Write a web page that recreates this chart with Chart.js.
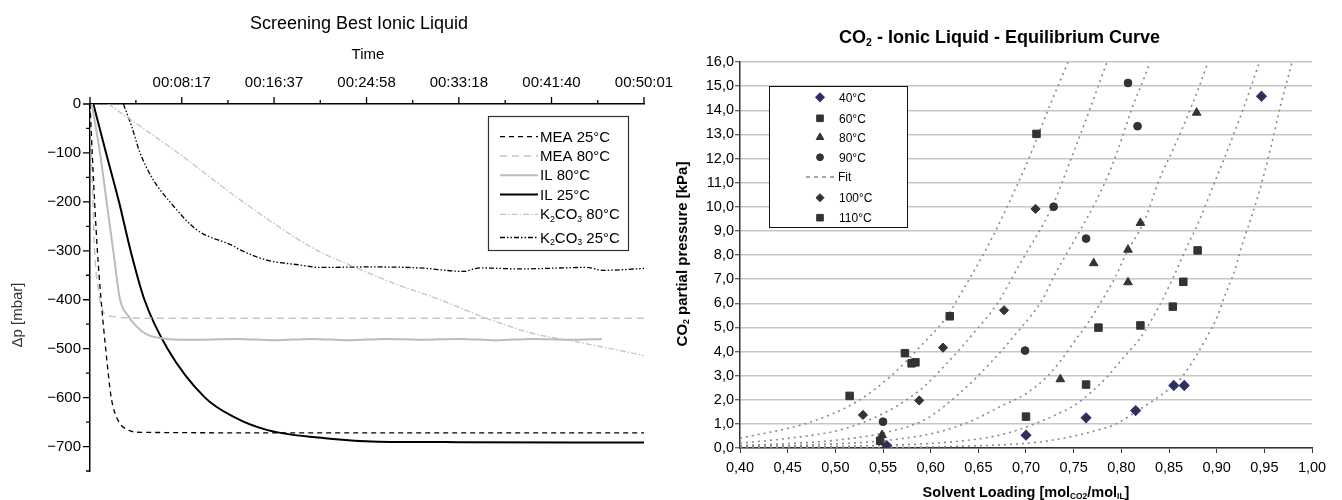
<!DOCTYPE html>
<html>
<head>
<meta charset="utf-8">
<script src="https://cdn.jsdelivr.net/npm/chart.js@4.4.1/dist/chart.umd.min.js"></script>
<style>
  html, body { margin: 0; padding: 0; background: #fff; }
  #wrap { position: relative; width: 1342px; height: 500px; overflow: hidden; }
  #screening { position: absolute; left: 0; top: 0; z-index: 1; }
  #equilibrium { position: absolute; left: 660px; top: 0; z-index: 2; }
</style>
</head>
<body>
<div id="wrap">
  <canvas id="screening" width="690" height="500"></canvas>
  <canvas id="equilibrium" width="682" height="500"></canvas>
</div>
<script>
const FONT = "'Liberation Sans', Arial, Helvetica, sans-serif";
Chart.defaults.font.family = FONT;
Chart.defaults.color = '#000';

// ---- left chart: Screening Best Ionic Liquid (time in s, dp in mbar) ----
const timeTicks = [497, 997, 1498, 1998, 2500, 3001];
const timeTickLabels = ['00:08:17', '00:16:37', '00:24:58', '00:33:18', '00:41:40', '00:50:01'];
const dpTicks = [0, -100, -200, -300, -400, -500, -600, -700];

const mea25 = [[0, 0], [12, -100], [25, -200], [40, -300], [60, -400], [85, -500], [115, -600], [150, -645], [200, -665], [280, -671], [1000, -672], [2000, -672], [3001, -672]];
const mea80 = [[0, 0], [8, -100], [16, -200], [25, -300], [45, -380], [63, -415], [81, -430], [120, -434], [200, -437], [400, -438], [3001, -438]];
const il80 = [[10, 0], [54, -100], [90, -200], [126, -300], [163, -400], [207, -433], [253, -455], [307, -471], [415, -480], [600, -482], [800, -480], [1000, -483], [1200, -480], [1400, -483], [1600, -480], [1800, -482], [2000, -480], [2200, -483], [2400, -480], [2600, -482], [2773, -480]];
const il25 = [[18, 0], [87, -100], [157, -200], [220, -300], [295, -400], [420, -500], [623, -600], [776, -639], [957, -666], [1300, -684], [1560, -690], [2000, -691], [3001, -692]];
const k2co3At80 = [[99, 0], [477, -100], [829, -200], [1210, -295], [1426, -332], [1643, -366], [1896, -400], [2149, -438], [2401, -469], [2636, -486], [3001, -514]];
const k2co3At25 = [[181, 0], [226, -46], [271, -100], [343, -155], [433, -200], [578, -257], [776, -290], [813, -298], [957, -319], [1138, -329], [1246, -334], [1517, -333], [1788, -335], [2021, -342], [2113, -335], [2329, -337], [2692, -334], [2779, -340], [3001, -336]];

// ---- right chart: CO2 - Ionic Liquid - Equilibrium Curve ----
const loadingTicks = [0.40, 0.45, 0.50, 0.55, 0.60, 0.65, 0.70, 0.75, 0.80, 0.85, 0.90, 0.95, 1.00];
const pressureTicks = [0, 1, 2, 3, 4, 5, 6, 7, 8, 9, 10, 11, 12, 13, 14, 15, 16];

const loading40 = [0.554, 0.700, 0.763, 0.815, 0.855, 0.866, 0.947];
const pressure40 = [0.10, 0.53, 1.25, 1.55, 2.59, 2.59, 14.58];
const loading60 = [0.547, 0.700, 0.763, 0.776, 0.820, 0.854, 0.865, 0.880];
const pressure60 = [0.30, 1.30, 2.63, 4.99, 5.08, 5.86, 6.89, 8.19];
const loading80 = [0.549, 0.736, 0.771, 0.807, 0.807, 0.820, 0.879];
const pressure80 = [0.54, 2.85, 7.66, 6.87, 8.22, 9.33, 13.9];
const loading90 = [0.550, 0.699, 0.729, 0.763, 0.807, 0.817];
const pressure90 = [1.09, 4.04, 10.0, 8.68, 15.13, 13.34];
const loading100 = [0.529, 0.588, 0.613, 0.677, 0.710];
const pressure100 = [1.37, 1.97, 4.16, 5.71, 9.91];
const loading110 = [0.515, 0.573, 0.580, 0.584, 0.620, 0.711];
const pressure110 = [2.16, 3.93, 3.51, 3.55, 5.46, 13.02];

// fit curves, [loading, pressure]
const fit110 = [[0.40, 0.40], [0.4735, 1.07], [0.5225, 1.92], [0.5576, 2.96], [0.589, 4.2], [0.617, 5.45], [0.638, 6.83], [0.657, 8.15], [0.673, 9.4], [0.703, 12.0], [0.723, 14.0], [0.744, 16.0], [0.748, 16.4]];
const fit100 = [[0.40, 0.20], [0.45, 0.40], [0.505, 0.75], [0.5506, 1.44], [0.589, 2.41], [0.617, 3.51], [0.645, 4.76], [0.670, 6.0], [0.694, 7.66], [0.7274, 10.0], [0.7474, 12.0], [0.7666, 14.0], [0.785, 16.0], [0.789, 16.4]];
const fit90 = [[0.40, 0.10], [0.45, 0.18], [0.50, 0.32], [0.55, 0.62], [0.595, 1.2], [0.634, 2.4], [0.662, 3.5], [0.690, 4.76], [0.717, 6.14], [0.731, 7.25], [0.745, 8.22], [0.773, 10.2], [0.792, 11.88], [0.8114, 14.1], [0.8297, 15.96], [0.833, 16.4]];
const fit80 = [[0.40, 0.05], [0.47, 0.12], [0.5576, 0.33], [0.61, 0.68], [0.645, 1.16], [0.673, 1.72], [0.70, 2.25], [0.7204, 2.9], [0.736, 3.6], [0.752, 4.48], [0.766, 5.24], [0.780, 6.14], [0.794, 7.11], [0.8044, 8.0], [0.8255, 9.53], [0.839, 11.05], [0.855, 12.44], [0.873, 14.1], [0.890, 15.9], [0.894, 16.4]];
const fit60 = [[0.40, 0.02], [0.5576, 0.12], [0.624, 0.26], [0.673, 0.54], [0.701, 0.88], [0.731, 1.37], [0.752, 1.80], [0.7694, 2.35], [0.785, 2.95], [0.8044, 3.85], [0.8184, 4.48], [0.8307, 5.24], [0.843, 6.14], [0.855, 7.11], [0.8657, 8.08], [0.8815, 9.4], [0.8955, 10.78], [0.9095, 12.16], [0.927, 13.96], [0.946, 16.1], [0.949, 16.4]];
const fit40 = [[0.40, 0.0], [0.55, 0.02], [0.62, 0.06], [0.699, 0.19], [0.720, 0.28], [0.745, 0.45], [0.7694, 0.68], [0.794, 0.99], [0.8185, 1.58], [0.8395, 2.13], [0.8535, 2.55], [0.864, 2.96], [0.878, 3.79], [0.890, 4.62], [0.9007, 5.45], [0.9095, 6.42], [0.918, 7.25], [0.925, 8.2], [0.9427, 10.36], [0.955, 12.16], [0.9673, 14.24], [0.9795, 16.1], [0.981, 16.4]];

const eqLegend = ['40°C', '60°C', '80°C', '90°C', 'Fit', '100°C', '110°C'];

// helpers
const toPoints = pairs => pairs.map(([x, y]) => ({ x, y }));
const zip = (xs, ys) => xs.map((x, i) => ({ x, y: ys[i] }));

// "K_{2}CO_{3}" -> [['K', false], ['2', true], ['CO', false], ['3', true]]
function richParts(str) {
    const out = [];
    str.split(/(_\{[^}]*\})/).forEach(s => {
        if (!s) return;
        if (s.startsWith('_{')) out.push([s.slice(2, -1), true]);
        else out.push([s, false]);
    });
    return out;
}

function drawRich(ctx, str, x, y, opt) {
    const size = opt.size;
    const weight = opt.bold ? 'bold ' : '';
    const subSize = size * 0.58;
    const parts = richParts(str);
    ctx.save();
    ctx.fillStyle = opt.color || '#000';
    ctx.textBaseline = 'alphabetic';
    ctx.textAlign = 'left';
    let total = 0;
    const widths = parts.map(([t, sub]) => {
        ctx.font = weight + (sub ? subSize : size) + 'px ' + FONT;
        const w = ctx.measureText(t).width;
        total += w;
        return w;
    });
    ctx.translate(x, y);
    if (opt.rotate) ctx.rotate(opt.rotate);
    let cx = opt.align === 'center' ? -total / 2 : 0;
    parts.forEach(([t, sub], i) => {
        ctx.font = weight + (sub ? subSize : size) + 'px ' + FONT;
        ctx.fillText(t, cx, sub ? size * 0.17 : 0);
        cx += widths[i];
    });
    ctx.restore();
}

function drawMarker(ctx, style, r, x, y) {
    ctx.beginPath();
    if (style === 'circle') {
        ctx.arc(x, y, r, 0, Math.PI * 2);
    } else if (style === 'rect') {
        const s = Math.SQRT1_2 * r;
        ctx.rect(x - s, y - s, 2 * s, 2 * s);
    } else if (style === 'rectRot') {
        ctx.moveTo(x - r, y); ctx.lineTo(x, y - r); ctx.lineTo(x + r, y); ctx.lineTo(x, y + r);
        ctx.closePath();
    } else if (style === 'triangle') {
        ctx.moveTo(x, y - r);
        ctx.lineTo(x + Math.sin(2 * Math.PI / 3) * r, y + r / 2);
        ctx.lineTo(x - Math.sin(2 * Math.PI / 3) * r, y + r / 2);
        ctx.closePath();
    }
    ctx.fill();
    ctx.stroke();
}

// ---------------- left chart ----------------
const screeningDecor = {
    id: 'screeningDecor',
    afterDraw(chart) {
        const { ctx, scales: { x, y } } = chart;
        ctx.save();
        ctx.strokeStyle = '#000';
        ctx.lineWidth = 1.3;
        // tick marks: long at labelled values, short halfway between
        const xMajor = [0, ...timeTicks];
        const xMinor = timeTicks.map((t, i) => (t + (i ? timeTicks[i - 1] : 0)) / 2);
        const top = chart.chartArea.top;
        const left = chart.chartArea.left;
        ctx.beginPath();
        xMajor.forEach(v => { const px = x.getPixelForValue(v); ctx.moveTo(px, top); ctx.lineTo(px, top - 7); });
        xMinor.forEach(v => { const px = x.getPixelForValue(v); ctx.moveTo(px, top); ctx.lineTo(px, top - 4); });
        dpTicks.forEach(v => {
            let py = y.getPixelForValue(v); ctx.moveTo(left, py); ctx.lineTo(left - 7, py);
            py = y.getPixelForValue(v - 50); ctx.moveTo(left, py); ctx.lineTo(left - 4, py);
        });
        ctx.stroke();
        ctx.restore();

        drawRich(ctx, 'Screening Best Ionic Liquid', 359, 28.5, { size: 18, align: 'center' });
        drawRich(ctx, 'Time', 368, 59.3, { size: 15, align: 'center' });
        drawRich(ctx, 'Δp [mbar]', 21.5, 315, { size: 15, align: 'center', rotate: -Math.PI / 2, color: '#333' });

        // legend box
        ctx.save();
        ctx.fillStyle = '#fff';
        ctx.fillRect(488.5, 116.5, 140, 134);
        ctx.strokeStyle = '#333';
        ctx.lineWidth = 1.2;
        ctx.strokeRect(488.5, 116.5, 140, 134);
        ctx.restore();
        const baselines = [141.7, 161, 180.3, 199.5, 219.3, 242.5];
        chart.data.datasets.forEach((ds, i) => {
            const by = baselines[i];
            ctx.save();
            ctx.strokeStyle = ds.borderColor;
            ctx.lineWidth = ds.borderWidth;
            ctx.setLineDash(ds.borderDash || []);
            ctx.beginPath();
            ctx.moveTo(500, by - 5);
            ctx.lineTo(538, by - 5);
            ctx.stroke();
            ctx.restore();
            drawRich(ctx, ds.legendText, 540, by, { size: 15 });
        });
    }
};

function lineSet(label, legendText, pairs, color, width, dash) {
    return {
        label, legendText,
        data: toPoints(pairs),
        borderColor: color, borderWidth: width, borderDash: dash,
        pointRadius: 0, fill: false,
        cubicInterpolationMode: 'monotone'
    };
}

new Chart(document.getElementById('screening'), {
    type: 'line',
    data: {
        datasets: [
            lineSet('MEA 25°C', 'MEA 25°C', mea25, '#000', 1.3, [5, 4]),
            lineSet('MEA 80°C', 'MEA 80°C', mea80, '#c4c4c4', 1.5, [7, 5]),
            lineSet('IL 80°C', 'IL 80°C', il80, '#bcbcbc', 2, []),
            lineSet('IL 25°C', 'IL 25°C', il25, '#000', 2, []),
            lineSet('K2CO3 80°C', 'K_{2}CO_{3} 80°C', k2co3At80, '#c4c4c4', 1.3, [6, 2, 1.5, 2]),
            lineSet('K2CO3 25°C', 'K_{2}CO_{3} 25°C', k2co3At25, '#000', 1.3, [5, 2, 1.5, 2, 1.5, 2])
        ]
    },
    options: {
        responsive: false,
        animation: false,
        events: [],
        layout: { padding: { left: 0, right: 46, top: 0, bottom: 29 } },
        plugins: { legend: { display: false }, tooltip: { enabled: false } },
        scales: {
            x: {
                type: 'linear', position: 'top', min: 0, max: 3001,
                afterBuildTicks: s => { s.ticks = timeTicks.map(v => ({ value: v })); },
                afterFit: s => { s.height = 104; },
                grid: { display: false, drawTicks: false },
                border: { color: '#000', width: 1.5 },
                ticks: {
                    autoSkip: false, maxRotation: 0, padding: 12,
                    font: { size: 15 }, color: '#000',
                    callback: v => timeTickLabels[timeTicks.indexOf(v)] || ''
                }
            },
            y: {
                min: -750, max: 0,
                afterBuildTicks: s => { s.ticks = dpTicks.map(v => ({ value: v })); },
                afterFit: s => { s.width = 90; },
                grid: { display: false, drawTicks: false },
                border: { color: '#000', width: 1.5 },
                ticks: {
                    padding: 9, font: { size: 15 }, color: '#000',
                    callback: v => String(v).replace('-', '\u2212')
                }
            }
        }
    },
    plugins: [screeningDecor]
});

// ---------------- right chart ----------------
const equilibriumDecor = {
    id: 'equilibriumDecor',
    afterDraw(chart) {
        const ctx = chart.ctx;
        drawRich(ctx, 'CO_{2} - Ionic Liquid - Equilibrium Curve', 339.5, 43.3, { size: 18, bold: true, align: 'center' });
        drawRich(ctx, 'CO_{2} partial pressure [kPa]', 26.5, 254, { size: 15, bold: true, align: 'center', rotate: -Math.PI / 2 });
        drawRich(ctx, 'Solvent Loading [mol_{CO2}/mol_{IL}]', 366, 496.5, { size: 14.5, bold: true, align: 'center' });

        // legend box
        ctx.save();
        ctx.fillStyle = '#fff';
        ctx.fillRect(109.5, 86.5, 138, 141);
        ctx.strokeStyle = '#111';
        ctx.lineWidth = 1;
        ctx.strokeRect(109.5, 86.5, 138, 141);
        ctx.restore();
        const rows = [97.3, 118.3, 137.3, 157.3, 177, 197.7, 217.7];
        eqLegend.forEach((name, i) => {
            const ds = chart.data.datasets.find(d => d.label === name);
            const cy = rows[i];
            ctx.save();
            if (ds.showLine) {
                ctx.strokeStyle = ds.borderColor;
                ctx.lineWidth = ds.borderWidth;
                ctx.setLineDash([4, 4]);
                ctx.beginPath();
                ctx.moveTo(146, cy);
                ctx.lineTo(177, cy);
                ctx.stroke();
            } else {
                ctx.fillStyle = ds.backgroundColor;
                ctx.strokeStyle = ds.borderColor;
                ctx.lineWidth = ds.borderWidth;
                drawMarker(ctx, ds.pointStyle, ds.pointRadius * 0.88, 160, cy);
            }
            ctx.restore();
            drawRich(ctx, name, name === 'Fit' ? 178 : 179, cy + 4.3, { size: 12 });
        });
    }
};

function markerSet(label, xs, ys, style, radius, border) {
    return {
        label, data: zip(xs, ys), order: 0,
        pointStyle: style, pointRadius: radius,
        backgroundColor: '#333', borderColor: border || '#333', borderWidth: border ? 1.5 : 1
    };
}

function fitSet(label, pairs) {
    return {
        label, data: toPoints(pairs), order: 1,
        showLine: true, pointRadius: 0,
        borderColor: '#8a8a8a', borderWidth: 1.6, borderDash: [2, 4],
        cubicInterpolationMode: 'monotone'
    };
}

new Chart(document.getElementById('equilibrium'), {
    type: 'scatter',
    data: {
        datasets: [
            markerSet('40°C', loading40, pressure40, 'rectRot', 4.6, '#2e2e8c'),
            markerSet('60°C', loading60, pressure60, 'rect', 5.3),
            markerSet('80°C', loading80, pressure80, 'triangle', 5.0),
            markerSet('90°C', loading90, pressure90, 'circle', 3.9),
            markerSet('100°C', loading100, pressure100, 'rectRot', 4.6),
            markerSet('110°C', loading110, pressure110, 'rect', 5.3),
            fitSet('Fit', fit40),
            fitSet('fit 60', fit60),
            fitSet('fit 80', fit80),
            fitSet('fit 90', fit90),
            fitSet('fit 100', fit100),
            fitSet('fit 110', fit110)
        ]
    },
    options: {
        responsive: false,
        animation: false,
        events: [],
        layout: { padding: { left: 0, right: 30, top: 62, bottom: 0 } },
        plugins: { legend: { display: false }, tooltip: { enabled: false } },
        scales: {
            x: {
                type: 'linear', min: 0.4, max: 1.0,
                afterBuildTicks: s => { s.ticks = loadingTicks.map(v => ({ value: v })); },
                afterFit: s => { s.height = 52; },
                grid: { drawOnChartArea: false, tickLength: 5, tickColor: '#333', tickWidth: 1 },
                border: { color: '#333', width: 1.5 },
                ticks: {
                    autoSkip: false, maxRotation: 0, padding: 6,
                    font: { size: 14.5 }, color: '#000',
                    callback: v => v.toFixed(2).replace('.', ',')
                }
            },
            y: {
                min: 0, max: 16,
                afterBuildTicks: s => { s.ticks = pressureTicks.map(v => ({ value: v })); },
                afterFit: s => { s.width = 80; },
                grid: { color: '#c6c6c6', lineWidth: 1.5, tickLength: 5, tickColor: '#333', tickWidth: 1 },
                border: { color: '#333', width: 1.5 },
                ticks: {
                    padding: 1, font: { size: 14.5 }, color: '#000',
                    callback: v => v.toFixed(1).replace('.', ',')
                }
            }
        }
    },
    plugins: [equilibriumDecor]
});
</script>
</body>
</html>
